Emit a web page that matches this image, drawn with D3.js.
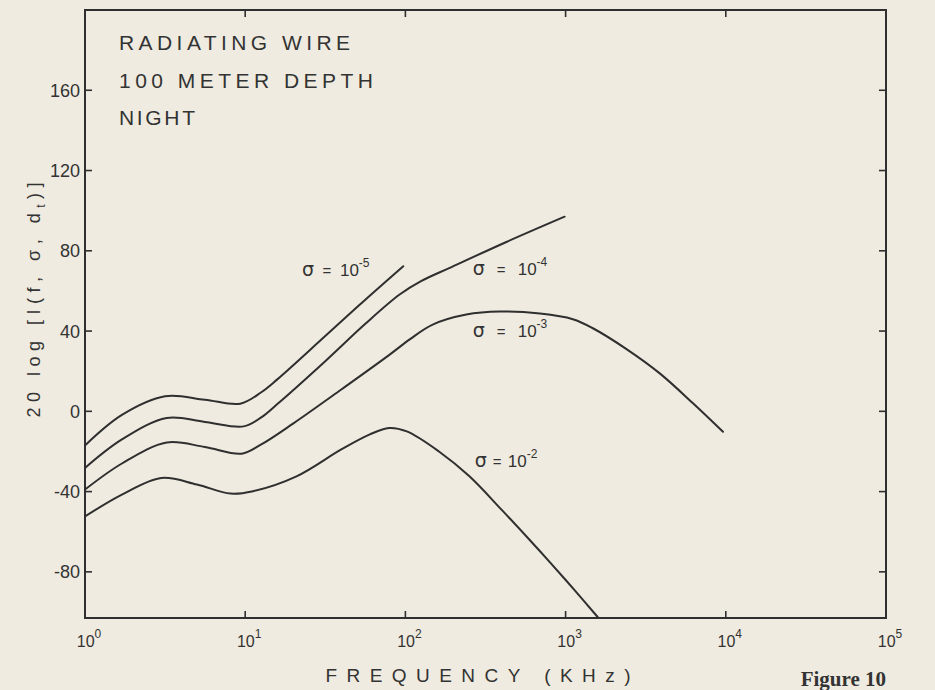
<!DOCTYPE html>
<html>
<head>
<meta charset="utf-8">
<script src="https://cdn.jsdelivr.net/npm/d3@7"></script>
<style>
  html, body { margin: 0; padding: 0; background: #efebe0; }
  svg { display: block; }
  text { font-family: "Liberation Sans", "DejaVu Sans", sans-serif; fill: #333; }
</style>
</head>
<body>
<svg id="chart" width="935" height="690"></svg>
<script>
// Frequency axis: decades 10^0 .. 10^5 kHz
const xTickExps = [0, 1, 2, 3, 4, 5];
const yTicks = [-80, -40, 0, 40, 80, 120, 160];
const yTickLabels = ["-80", "-40", "0", "40", "80", "120", "160"];

// Conductivities (mho/m) shown as sigma = 10^exp
const sigmaExps = ["-5", "-4", "-3", "-2"];

// Frequency (kHz) and level (dB) for each conductivity curve
const freq5  = [1, 1.7, 3.16, 5.6, 9.3, 12.6, 15.8, 31.6, 56, 97];
const level5 = [-17, -1.8, 7.5, 5.8, 3.8, 9.5, 15.8, 37.5, 55.5, 72.3];

const freq4  = [1, 1.7, 3.24, 5.6, 9.8, 12.6, 15.8, 31.6, 56, 92, 126, 189, 427, 986];
const level4 = [-28.2, -14, -3.3, -5.3, -7.5, -3, 3.5, 25, 43.5, 58.2, 65, 71.5, 84.4, 97];

const freq3  = [1, 1.7, 3.24, 5.6, 9.5, 12.6, 20, 40, 79, 107, 148, 240, 389, 692, 1110, 1480, 2400, 3870, 6240, 9600];
const level3 = [-39, -26, -15.5, -17.8, -21.1, -16.5, -6, 11, 28, 36, 43.2, 48.2, 49.7, 48.7, 45.9, 41.4, 31, 18.9, 4.0, -10.2];

const freq2  = [1, 1.7, 3.0, 5.0, 8.1, 11.2, 20.9, 39.8, 60, 79, 102, 162, 251, 398, 603, 794, 1120, 1585];
const level2 = [-52.4, -41.5, -33.2, -36.5, -41, -39.8, -32.4, -19, -11.5, -8.3, -10, -20, -32.4, -49, -64.5, -75, -88.5, -102.5];

// Curve label anchors (kHz, dB)
const labelFreq  = [22.6, 263, 263, 271];
const labelLevel = [67.4, 67.9, 37.0, -27.8];

const titleLines = ["RADIATING WIRE", "100 METER DEPTH", "NIGHT"];

const svg = d3.select("#chart");
const plot = { left: 85, right: 886, top: 10, bottom: 618 };

const x = d3.scaleLog().domain([1, 1e5]).range([plot.left, plot.right]);
const y = d3.scaleLinear().domain([-103, 200]).range([plot.bottom, plot.top]);

const ink = "#2f2f2f";

// Frame
svg.append("rect")
  .attr("x", plot.left).attr("y", plot.top)
  .attr("width", plot.right - plot.left).attr("height", plot.bottom - plot.top)
  .attr("fill", "none").attr("stroke", ink).attr("stroke-width", 2);

// Inward ticks on all four sides
const tickLen = 7;
const xTickVals = xTickExps.map(e => Math.pow(10, e));
const g = svg.append("g").attr("stroke", ink).attr("stroke-width", 1.6);
xTickVals.slice(1, -1).forEach(v => {
  g.append("line").attr("x1", x(v)).attr("x2", x(v)).attr("y1", plot.bottom).attr("y2", plot.bottom - tickLen);
  g.append("line").attr("x1", x(v)).attr("x2", x(v)).attr("y1", plot.top).attr("y2", plot.top + tickLen);
});
yTicks.forEach(v => {
  g.append("line").attr("x1", plot.left).attr("x2", plot.left + tickLen).attr("y1", y(v)).attr("y2", y(v));
  g.append("line").attr("x1", plot.right).attr("x2", plot.right - tickLen).attr("y1", y(v)).attr("y2", y(v));
});

// X tick labels: 10^n
xTickExps.forEach((e, i) => {
  const t = svg.append("text")
    .attr("x", x(xTickVals[i]) + 4).attr("y", 647)
    .attr("text-anchor", "middle").attr("font-size", 16);
  t.append("tspan").text("10");
  t.append("tspan").attr("font-size", 12).attr("dy", -9).text(e);
});

// Y tick labels
yTicks.forEach((v, i) => {
  svg.append("text")
    .attr("x", 80).attr("y", y(v)).attr("dy", "0.36em")
    .attr("text-anchor", "end").attr("font-size", 18)
    .text(yTickLabels[i]);
});

// Axis titles
svg.append("text")
  .attr("x", 478).attr("y", 682).attr("text-anchor", "middle")
  .attr("font-size", 19).attr("textLength", 305).attr("lengthAdjust", "spacing")
  .text("FREQUENCY (KHz)");

const yl = svg.append("text")
  .attr("transform", "translate(40,300) rotate(-90)")
  .attr("text-anchor", "middle").attr("font-size", 18)
  .attr("textLength", 235).attr("lengthAdjust", "spacing");
yl.append("tspan").text("20 log [I(f, σ, d");
yl.append("tspan").attr("font-size", 12).attr("dy", 5).text("t");
yl.append("tspan").attr("dy", -5).text(")]");

// Figure caption
svg.append("text")
  .attr("x", 886).attr("y", 686).attr("text-anchor", "end")
  .style("font-family", "'Liberation Serif', 'DejaVu Serif', serif")
  .attr("font-weight", "bold").attr("font-size", 21)
  .text("Figure 10");

// Title block inside the plot
const titleWidths = [231, 254, 76];
const titleBase = [50, 88, 125];
titleLines.forEach((s, i) => {
  svg.append("text")
    .attr("x", 119).attr("y", titleBase[i]).attr("font-size", 21)
    .attr("textLength", titleWidths[i]).attr("lengthAdjust", "spacing")
    .text(s);
});

// Curves
const series = [
  { f: freq5, v: level5 },
  { f: freq4, v: level4 },
  { f: freq3, v: level3 },
  { f: freq2, v: level2 }
];
const line = d3.line()
  .x(d => x(d[0])).y(d => y(d[1]))
  .curve(d3.curveCatmullRom.alpha(0.5));

svg.append("g").selectAll("path")
  .data(series)
  .join("path")
  .attr("d", s => line(s.f.map((f, i) => [f, s.v[i]])))
  .attr("fill", "none").attr("stroke", ink).attr("stroke-width", 2)
  .attr("stroke-linejoin", "round").attr("stroke-linecap", "round");

// Curve labels: sigma = 10^exp
const tenOffset = [38, 45, 45, 33];
sigmaExps.forEach((e, i) => {
  const lx = x(labelFreq[i]), ly = y(labelLevel[i]);
  const gl = svg.append("g").attr("transform", `translate(${lx},${ly})`);
  gl.append("text").attr("x", 0).attr("y", 0).attr("font-size", 19)
    .style("font-family", "'DejaVu Sans', sans-serif").text("σ");
  gl.append("text").attr("x", (tenOffset[i] + 13) / 2 - 5).attr("y", 0).attr("font-size", 15).text("=");
  const t = gl.append("text").attr("x", tenOffset[i]).attr("y", 0).attr("font-size", 17);
  t.append("tspan").text("10");
  t.append("tspan").attr("font-size", 12).attr("dy", -9).text(e);
});
</script>
</body>
</html>
